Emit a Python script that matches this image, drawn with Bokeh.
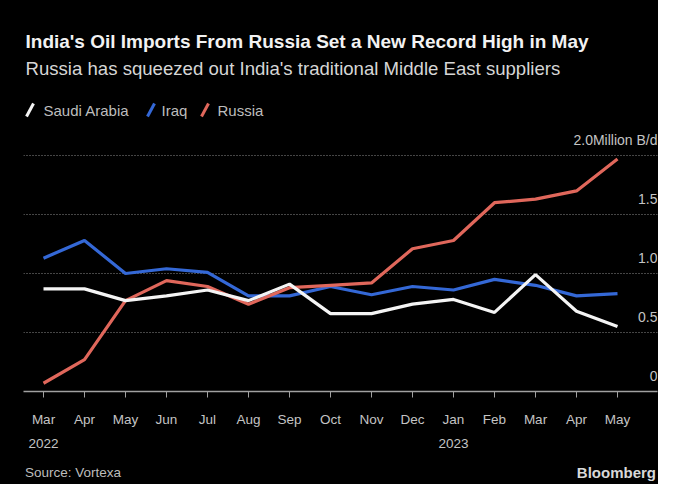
from bokeh.plotting import figure
from bokeh.models import FixedTicker, Label, Arrow, ColumnDataSource, Div
from bokeh.layouts import column
from bokeh.core.properties import value
from bokeh.embed import file_html
from bokeh.resources import INLINE

# ---------------- data ----------------
months = ["Mar", "Apr", "May", "Jun", "Jul", "Aug", "Sep", "Oct", "Nov", "Dec",
          "Jan", "Feb", "Mar", "Apr", "May"]
years = {0: "2022", 10: "2023"}
saudi = [0.87, 0.87, 0.77, 0.81, 0.86, 0.77, 0.91, 0.66, 0.66, 0.74, 0.78, 0.67, 0.99, 0.68, 0.55]
iraq = [1.13, 1.28, 1.00, 1.04, 1.01, 0.81, 0.81, 0.89, 0.82, 0.89, 0.86, 0.95, 0.90, 0.81, 0.83]
russia = [0.07, 0.27, 0.77, 0.94, 0.89, 0.74, 0.88, 0.90, 0.92, 1.21, 1.28, 1.60, 1.63, 1.70, 1.97]
y_ticks = [0, 0.5, 1.0, 1.5, 2.0]
y_tick_labels = ["0", "0.5", "1.0", "1.5", "2.0Million B/d"]
series_names = ["Saudi Arabia", "Iraq", "Russia"]
title_text = "India's Oil Imports From Russia Set a New Record High in May"
subtitle_text = "Russia has squeezed out India's traditional Middle East suppliers"
source_text = "Source: Vortexa"
brand_text = "Bloomberg"

x = list(range(len(months)))

FONT = "Liberation Sans"
BG = "#000000"
C_SAUDI, C_IRAQ, C_RUSSIA = "#f4f4f4", "#3468d6", "#e0675b"

# ---------------- layout ----------------
W, H = 658, 484
FOOT_H = 30
PH = H - FOOT_H           # figure height
FL, FR = 23, 1            # frame borders (figure px)
FT = 0
FBOT = 391                # frame bottom (figure px) = zero line
FB = PH - FBOT
FW = W - FL - FR
FH = FBOT - FT
PX_PER_MONTH = 41.0
X0 = -20.0 / PX_PER_MONTH
X1 = X0 + FW / PX_PER_MONTH
PX_PER_UNIT = 118.0
Y1 = FH / PX_PER_UNIT

p = figure(width=W, height=PH, output_backend="svg", toolbar_location=None,
           x_range=(X0, X1), y_range=(0, Y1),
           min_border_left=FL, min_border_right=FR,
           min_border_top=FT, min_border_bottom=FB,
           y_axis_location=None)
p.title.visible = False
p.background_fill_color = BG
p.border_fill_color = None
p.styles = {"background-color": BG}
p.outline_line_color = None

# pixel -> data helpers (text placement only)
def dx(px):
    return X0 + (px - FL) / PX_PER_MONTH

def dy(py):
    return (FBOT - py) / PX_PER_UNIT

# grid
p.xgrid.grid_line_color = None
p.ygrid.ticker = FixedTicker(ticks=[0.5, 1.0, 1.5, 2.0])
p.ygrid.grid_line_color = "#8a8a8a"
p.ygrid.grid_line_dash = "1 2"
p.ygrid.grid_line_width = 1

# x axis
ax = p.xaxis[0]
ax.ticker = FixedTicker(ticks=x)
ax.major_label_overrides = {i: (m + "\n" + years[i] if i in years else m) for i, m in enumerate(months)}
ax.axis_line_color = "#a0a0a0"
ax.axis_line_width = 1.5
ax.major_tick_line_color = "#a0a0a0"
ax.major_tick_out = 6
ax.major_tick_in = 0
ax.minor_tick_line_color = None
ax.major_label_text_color = "#c4c4c4"
ax.major_label_text_font = FONT
ax.major_label_text_font_size = "13.5px"
ax.major_label_standoff = 14
ax.major_label_text_line_height = 1.6

# series
src = ColumnDataSource(dict(x=x, saudi=saudi, iraq=iraq, russia=russia))
p.line("x", "iraq", source=src, line_color=C_IRAQ, line_width=3.2)
p.line("x", "russia", source=src, line_color=C_RUSSIA, line_width=3.2)
p.line("x", "saudi", source=src, line_color=C_SAUDI, line_width=3.2)

# y tick labels (sit above gridlines at right edge)
ysrc = ColumnDataSource(dict(x=[X1] * len(y_ticks), y=y_ticks, t=y_tick_labels))
p.text("x", "y", text="t", source=ysrc, text_align="right", text_baseline="middle",
       y_offset=-16, x_offset=0, text_color="#c4c4c4",
       text_font=value(FONT), text_font_size="14px")

def label(px, py, text, size, color, bold=False, align="left"):
    p.add_layout(Label(x=dx(px), y=dy(py), text=text,
                       text_font=FONT, text_font_style="bold" if bold else "normal",
                       text_font_size=size, text_color=color,
                       text_baseline="middle", text_align=align))

# titles
label(25, 41, title_text, "19px", "#f2f2f2", bold=True)
label(25, 68, subtitle_text, "18.6px", "#d6d6d6")

# legend
leg = [(series_names[0], C_SAUDI, 26, 43), (series_names[1], C_IRAQ, 147, 161), (series_names[2], C_RUSSIA, 201, 217)]
for name, col, lx, tx in leg:
    p.add_layout(Arrow(x_start=dx(lx), y_start=dy(116), x_end=dx(lx + 7), y_end=dy(103),
                       line_color=col, line_width=3, end=None, start=None))
    label(tx, 110, name, "15px", "#bdbdbd")

# footer
footer_html = (
    '<div style="position:relative;width:%dpx;height:%dpx;background:#000;'
    'font-family:\'Liberation Sans\';">'
    '<span style="position:absolute;left:25px;top:9px;font-size:13.5px;color:#bdbdbd;">%s</span>'
    '<span style="position:absolute;right:2px;top:8px;font-size:15px;font-weight:bold;color:#d8d8d8;">%s</span>'
    '</div>' % (W, FOOT_H, source_text, brand_text)
)
footer = Div(text=footer_html, width=W, height=FOOT_H, margin=0,
             styles={"background-color": BG})

layout = column(p, footer, spacing=0, styles={"background-color": BG})

open("out.html", "w").write(file_html(layout, INLINE))
